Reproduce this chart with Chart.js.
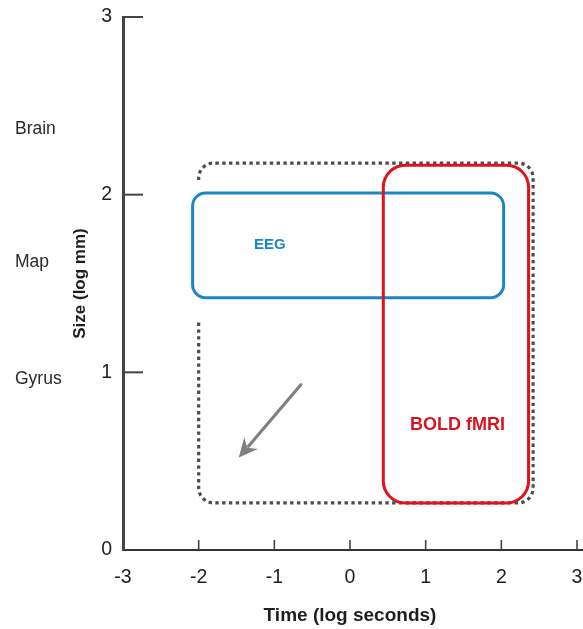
<!DOCTYPE html>
<html><head><meta charset="utf-8">
<script src="https://cdn.jsdelivr.net/npm/chart.js@4.4.0/dist/chart.umd.min.js"></script>
<style>html,body{margin:0;padding:0;background:#fff;}</style>
</head><body>
<canvas id="c" width="583" height="629"></canvas>
<script>
// ---- data ----
const xTicks = [-3, -2, -1, 0, 1, 2, 3];
const yTicks = [0, 1, 2, 3];
const sizeLabels = ['Brain', 'Map', 'Gyrus'];
const sizeLabelValues = [2.37, 1.62, 0.96];
const eegX = [-2.08, 2.03];
const eegY = [1.42, 2.01];
const boldX = [0.44, 2.36];
const boldY = [0.265, 2.165];
const coverX = [-2.0, 2.42];
const coverY = [0.265, 2.178];
const coverOpenFromY = 1.28;
const arrowFrom = [-0.65, 0.93];
const arrowTo = [-1.47, 0.52];
const eegLabel = ['EEG', -1.06, 1.716];
const boldLabel = ['BOLD fMRI', 1.42, 0.705];

const FONT = "'Liberation Sans', Arial, Helvetica, sans-serif";

function rr(ctx, l, t, r, b, rad) {
  ctx.beginPath();
  ctx.moveTo(l + rad, t);
  ctx.lineTo(r - rad, t);
  ctx.arcTo(r, t, r, t + rad, rad);
  ctx.lineTo(r, b - rad);
  ctx.arcTo(r, b, r - rad, b, rad);
  ctx.lineTo(l + rad, b);
  ctx.arcTo(l, b, l, b - rad, rad);
  ctx.lineTo(l, t + rad);
  ctx.arcTo(l, t, l + rad, t, rad);
  ctx.closePath();
}

const shapes = {
  id: 'shapes',
  afterDraw(chart) {
    const {ctx, scales: {x, y}, chartArea: ca} = chart;
    const px = v => x.getPixelForValue(v);
    const py = v => y.getPixelForValue(v);
    ctx.save();
    // inward tick marks
    ctx.strokeStyle = '#444';
    ctx.lineWidth = 2;
    yTicks.filter(v => v > 0).forEach(v => {
      ctx.beginPath(); ctx.moveTo(ca.left, py(v)); ctx.lineTo(ca.left + 20, py(v)); ctx.stroke();
    });
    ctx.lineWidth = 1.6;
    xTicks.filter(v => v > xTicks[0]).forEach(v => {
      ctx.beginPath(); ctx.moveTo(px(v), ca.bottom); ctx.lineTo(px(v), ca.bottom - 10); ctx.stroke();
    });
    // extend x axis line to the edge
    ctx.lineWidth = 2; ctx.strokeStyle = '#333';
    ctx.beginPath(); ctx.moveTo(ca.right, ca.bottom); ctx.lineTo(chart.width, ca.bottom); ctx.stroke();

    // size labels on the left
    ctx.fillStyle = '#2a2a2a';
    ctx.font = '17.5px ' + FONT;
    ctx.textAlign = 'left'; ctx.textBaseline = 'middle';
    sizeLabels.forEach((s, i) => ctx.fillText(s, 15, py(sizeLabelValues[i])));

    // coverage dotted outline (open on the left side)
    {
      const L = px(coverX[0]), R = px(coverX[1]), T = py(coverY[1]), B = py(coverY[0]);
      const r = 15;
      ctx.strokeStyle = '#4d4d4d';
      ctx.lineWidth = 3.2;
      ctx.setLineDash([3.4, 3.4]);
      ctx.beginPath();
      ctx.moveTo(L, py(coverOpenFromY));
      ctx.lineTo(L, B - r);
      ctx.arcTo(L, B, L + r, B, r);
      ctx.lineTo(R - r, B);
      ctx.arcTo(R, B, R, B - r, r);
      ctx.lineTo(R, T + r);
      ctx.arcTo(R, T, R - r, T, r);
      ctx.lineTo(L + r, T);
      ctx.arcTo(L, T, L, T + r, r);
      ctx.lineTo(L, T + r + 2);
      ctx.stroke();
      ctx.setLineDash([]);
    }
    // EEG box
    ctx.strokeStyle = '#1b88c6';
    ctx.lineWidth = 3;
    rr(ctx, px(eegX[0]), py(eegY[1]), px(eegX[1]), py(eegY[0]), 13);
    ctx.stroke();
    // BOLD box
    ctx.strokeStyle = '#e0121d';
    ctx.lineWidth = 3;
    rr(ctx, px(boldX[0]), py(boldY[1]), px(boldX[1]), py(boldY[0]), 22);
    ctx.stroke();

    // arrow
    {
      const x1 = px(arrowFrom[0]), y1 = py(arrowFrom[1]), x2 = px(arrowTo[0]), y2 = py(arrowTo[1]);
      const ang = Math.atan2(y2 - y1, x2 - x1);
      const hl = 19, hw = 9;
      ctx.strokeStyle = '#808080'; ctx.fillStyle = '#808080';
      ctx.lineWidth = 3.2; ctx.lineCap = 'round';
      ctx.beginPath(); ctx.moveTo(x1, y1);
      ctx.lineTo(x2 - Math.cos(ang) * (hl - 4), y2 - Math.sin(ang) * (hl - 4)); ctx.stroke();
      ctx.beginPath();
      ctx.moveTo(x2, y2);
      const bx = x2 - Math.cos(ang) * hl, by = y2 - Math.sin(ang) * hl;
      ctx.lineTo(bx + Math.sin(ang) * hw, by - Math.cos(ang) * hw);
      ctx.lineTo(x2 - Math.cos(ang) * (hl - 6), y2 - Math.sin(ang) * (hl - 6));
      ctx.lineTo(bx - Math.sin(ang) * hw, by + Math.cos(ang) * hw);
      ctx.closePath(); ctx.fill();
      ctx.lineCap = 'butt';
    }

    // labels
    ctx.textAlign = 'center'; ctx.textBaseline = 'middle';
    ctx.fillStyle = '#1b88c6';
    ctx.font = 'bold 15px ' + FONT;
    ctx.fillText(eegLabel[0], px(eegLabel[1]), py(eegLabel[2]));
    ctx.fillStyle = '#d8141f';
    ctx.font = 'bold 18px ' + FONT;
    ctx.fillText(boldLabel[0], px(boldLabel[1]), py(boldLabel[2]));
    ctx.restore();
  }
};

new Chart(document.getElementById('c'), {
  type: 'scatter',
  data: { datasets: [] },
  options: {
    responsive: false,
    animation: false,
    layout: { padding: { left: 0, right: 6, top: 17, bottom: 0 } },
    plugins: { legend: { display: false }, tooltip: { enabled: false } },
    scales: {
      x: {
        type: 'linear', min: xTicks[0], max: xTicks[xTicks.length - 1],
        afterBuildTicks: s => { s.ticks = xTicks.map(v => ({ value: v })); },
        grid: { display: false, drawTicks: false },
        border: { display: true, color: '#333', width: 2 },
        ticks: { padding: 16, color: '#1e1e1e', font: { family: FONT, size: 19.5 }, maxRotation: 0, autoSkip: false },
        title: { display: true, text: 'Time (log seconds)', color: '#1e1e1e',
                 font: { family: FONT, size: 19, weight: 'bold' }, padding: { top: 0, bottom: 2 } },
        afterFit: s => { s.height = 79; s.paddingLeft = 0; s.paddingRight = 0; }
      },
      y: {
        type: 'linear', min: yTicks[0], max: yTicks[yTicks.length - 1],
        afterBuildTicks: s => { s.ticks = yTicks.map(v => ({ value: v })); },
        grid: { display: false, drawTicks: false },
        border: { display: true, color: '#444', width: 3 },
        ticks: { padding: 11, color: '#1e1e1e', font: { family: FONT, size: 19.5 }, autoSkip: false },
        title: { display: true, text: 'Size (log mm)', color: '#1e1e1e',
                 font: { family: FONT, size: 17, weight: 'bold' }, padding: { top: 70, bottom: 0 } },
        afterFit: s => { s.width = 123; s.paddingTop = 0; s.paddingBottom = 0; }
      }
    }
  },
  plugins: [shapes]
});
</script>
</body></html>
